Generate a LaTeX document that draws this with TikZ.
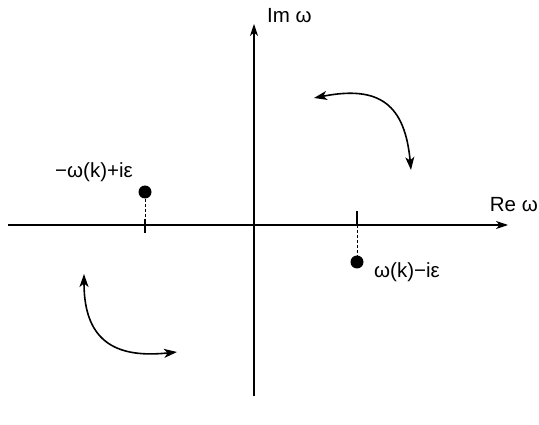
\documentclass[tikz,border=0pt]{standalone}
\usepackage{fontspec}
\setmainfont{Liberation Sans}
\usetikzlibrary{arrows.meta}
\begin{document}
\begin{tikzpicture}[x=1pt,y=-1pt,
  axis/.style={line width=1.1pt,-{Stealth[length=12pt,width=8pt,inset=3.5pt]}},
  turn/.style={line width=1.6pt,{Stealth[length=13pt,width=9pt,inset=3.5pt]}-{Stealth[length=13pt,width=9pt,inset=3.5pt]}},
  pole/.style={circle,fill=black,inner sep=0pt,minimum size=13pt},
  lbl/.style={font=\fontsize{20.5}{23}\selectfont,inner sep=0pt},
  tickline/.style={line width=1.1pt},
  dashline/.style={line width=1pt,dash pattern=on 3pt off 2pt}]
\useasboundingbox (0,0) rectangle (539,425);
\coordinate (xl) at (8,225);
\coordinate (xr) at (508,225);
\coordinate (yb) at (254,396);
\coordinate (yt) at (254,24);
\draw[axis] (xl) -- (xr);
\draw[axis] (yb) -- (yt);
\node[lbl,anchor=west] (im) at (267,16) {Im ω};
\node[lbl,anchor=east] (re) at (538,205) {Re ω};
% left pole
\node[pole] (p1) at (145,192) {};
\coordinate (t1a) at (145,219);
\coordinate (t1b) at (145,233);
\draw[dashline] (p1) -- (t1a);
\draw[tickline] (t1a) -- (t1b);
\node[lbl] (l1) at (94,172) {−ω(k)+iε};
% right pole
\node[pole] (p2) at (357,262) {};
\coordinate (t2a) at (357,211);
\coordinate (t2b) at (357,225);
\draw[tickline] (t2a) -- (t2b);
\draw[dashline] (t2b) -- (p2);
\node[lbl] (l2) at (407,272) {ω(k)−iε};
% arrows
\coordinate (a1) at (314,98);
\coordinate (a2) at (411,170);
\draw[turn] (a1) .. controls (380,85) and (405,105) .. (a2);
\coordinate (b1) at (84,274);
\coordinate (b2) at (177,352);
\draw[turn] (b1) .. controls (84,345) and (120,358) .. (b2);
\end{tikzpicture}
\end{document}
